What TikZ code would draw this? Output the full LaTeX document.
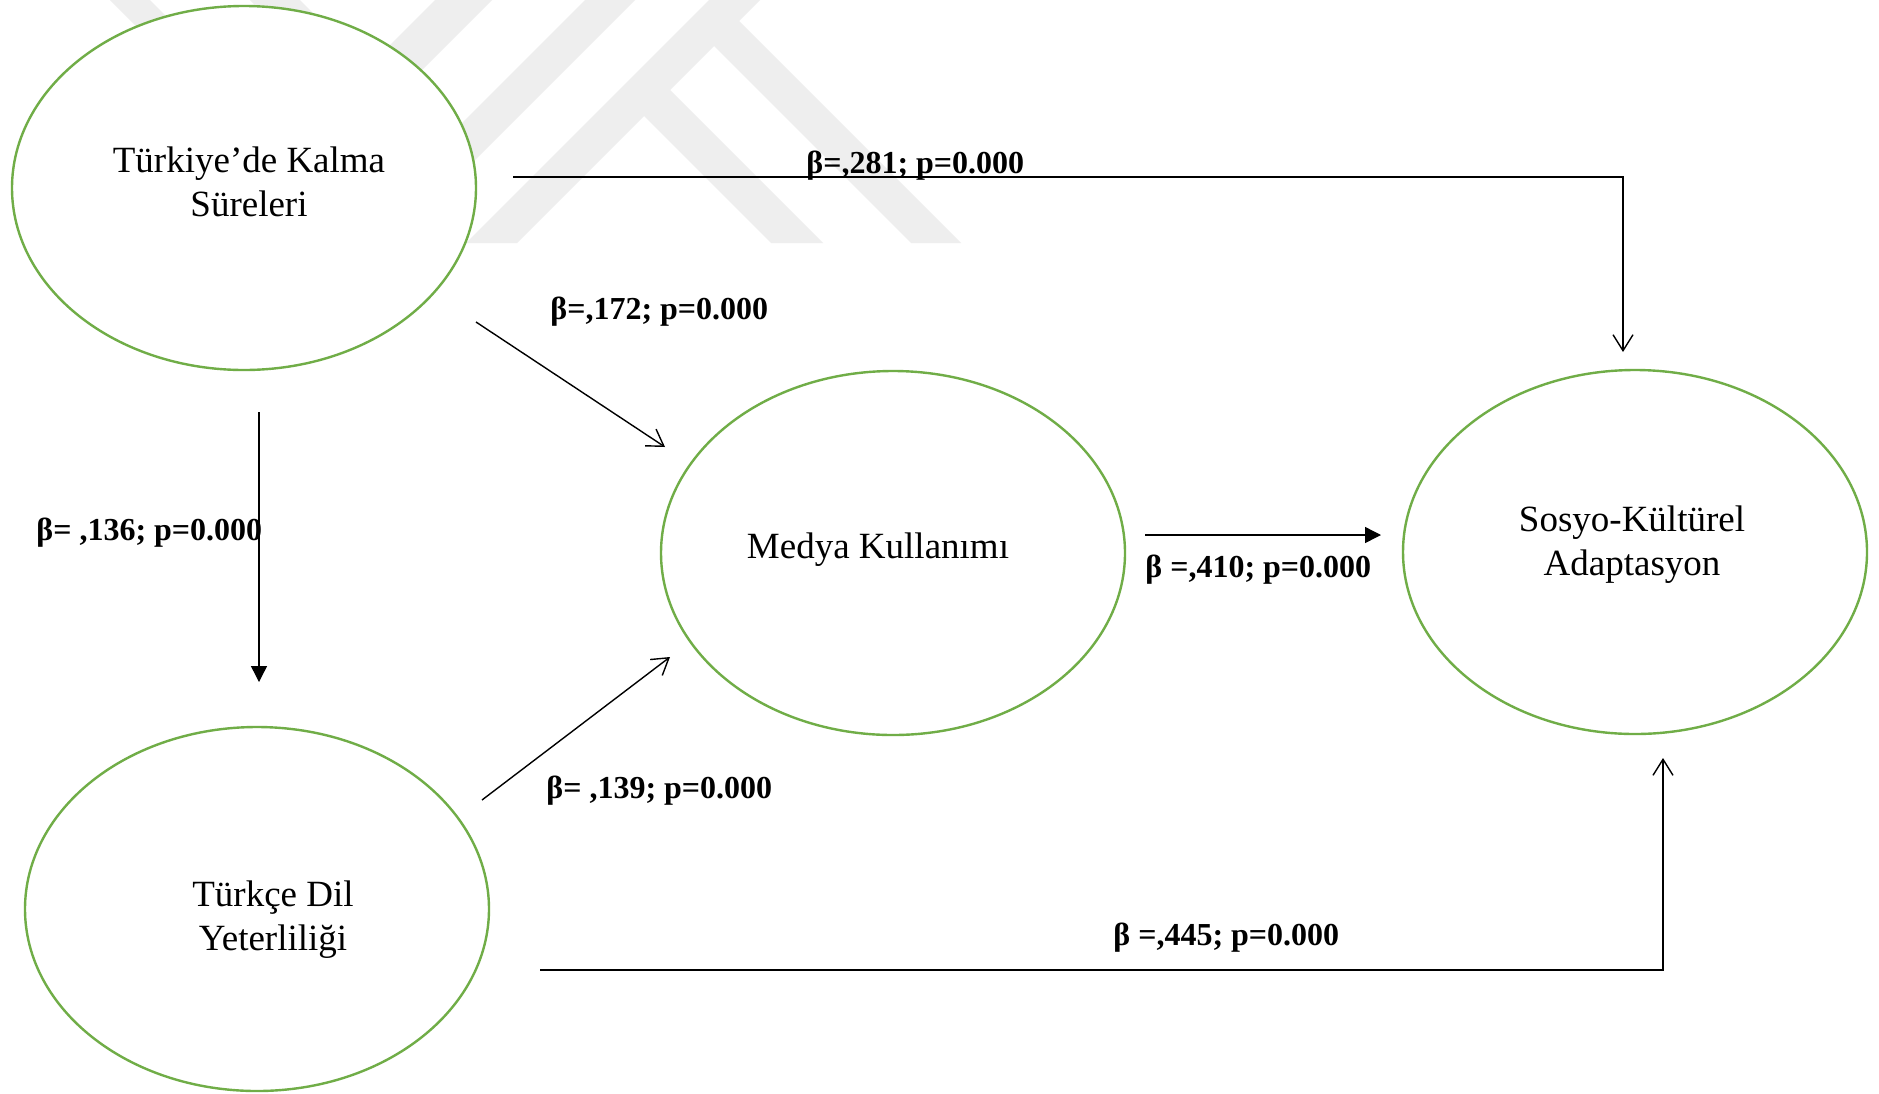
\documentclass[tikz,border=0pt]{standalone}
\usepackage{fontspec}
\setmainfont{Liberation Serif}
\usetikzlibrary{arrows.meta,shapes.geometric}

\definecolor{latgreen}{RGB}{112,173,71}
\definecolor{markgray}{RGB}{238,238,238}

\tikzset{
  construct/.style={ellipse, draw=latgreen, line width=1.2pt, fill=white,
    minimum width=232pt, minimum height=182pt, inner sep=0pt, outer sep=0pt},
  nametext/.style={font=\fontsize{18.5}{22}\selectfont, align=center, inner sep=0pt},
  coef/.style={font=\fontsize{16}{19}\selectfont\bfseries, inner sep=0pt, anchor=base west},
  link/.style={draw=black, line width=0.7pt},
  openarrow/.style={link, -{Straight Barb[length=8pt,width=10pt]}},
  solidarrow/.style={link, -{Triangle[length=8pt,width=8pt]}},
  band/.style={fill=markgray, draw=none}
}

\begin{document}
\begin{tikzpicture}[x=0.5pt, y=-0.5pt]
  % page frame
  \fill[white] (0,0) rectangle (1879,1093);
  \useasboundingbox (0,0) rectangle (1879,1093);

  % faint background emblem: diagonal bands
  \fill[band] (110,0) -- (150,0) -- (320,170) -- (280,170) -- cycle;
  \fill[band] (250,0) -- (300,0) -- (460,160) -- (410,160) -- cycle;
  \fill[band] (435,0) -- (492,0) -- (249,243) -- (192,243) -- cycle;
  \fill[band] (585,0) -- (635,0) -- (392,243) -- (342,243) -- cycle;
  \fill[band] (709,0) -- (760,0) -- (517,243) -- (466,243) -- cycle;
  \fill[band] (639,111) -- (665,85) -- (823,243) -- (771,243) -- cycle;
  \fill[band] (709,41) -- (734,16) -- (961,243) -- (911,243) -- cycle;

  % constructs
  \node[construct] (ts) at (244,188) {};
  \node[construct] (td) at (257,909) {};
  \node[construct] (mk) at (893,553) {};
  \node[construct] (sk) at (1635,552) {};

  \node[nametext] (tsname) at (249,182) {Türkiye’de Kalma\\Süreleri};
  \node[nametext] (tdname) at (273,920) {Türkçe Dil\\Yeterliliği};
  \node[nametext, anchor=base] (mkname) at (878,558) {Medya Kullanımı};
  \node[nametext] (skname) at (1632,545) {Sosyo-Kültürel\\Adaptasyon};

  % connector end points
  \coordinate (tsA) at (513,177);
  \coordinate (bendA) at (1623,177);
  \coordinate (skA) at (1623,352);
  \coordinate (tsB) at (476,322);
  \coordinate (mkB) at (665,447);
  \coordinate (tsC) at (259,412);
  \coordinate (tdC) at (259,682);
  \coordinate (tdD) at (482,800);
  \coordinate (mkD) at (670,657);
  \coordinate (mkE) at (1145,535);
  \coordinate (skE) at (1381,535);
  \coordinate (tdF) at (540,970);
  \coordinate (bendF) at (1663,970);
  \coordinate (skF) at (1663,758);

  % paths
  \draw[openarrow] (tsA) -- (bendA) -- (skA);
  \draw[openarrow] (tsB) -- (mkB);
  \draw[solidarrow] (tsC) -- (tdC);
  \draw[openarrow] (tdD) -- (mkD);
  \draw[solidarrow] (mkE) -- (skE);
  \draw[openarrow] (tdF) -- (bendF) -- (skF);

  % path coefficients
  \node[coef] (c281) at (806,173) {β=,281; p=0.000};
  \node[coef] (c172) at (550,319) {β=,172; p=0.000};
  \node[coef] (c136) at (36,540) {β= ,136; p=0.000};
  \node[coef] (c139) at (546,798) {β= ,139; p=0.000};
  \node[coef] (c410) at (1145,577) {β =,410; p=0.000};
  \node[coef] (c445) at (1113,945) {β =,445; p=0.000};
\end{tikzpicture}
\end{document}
